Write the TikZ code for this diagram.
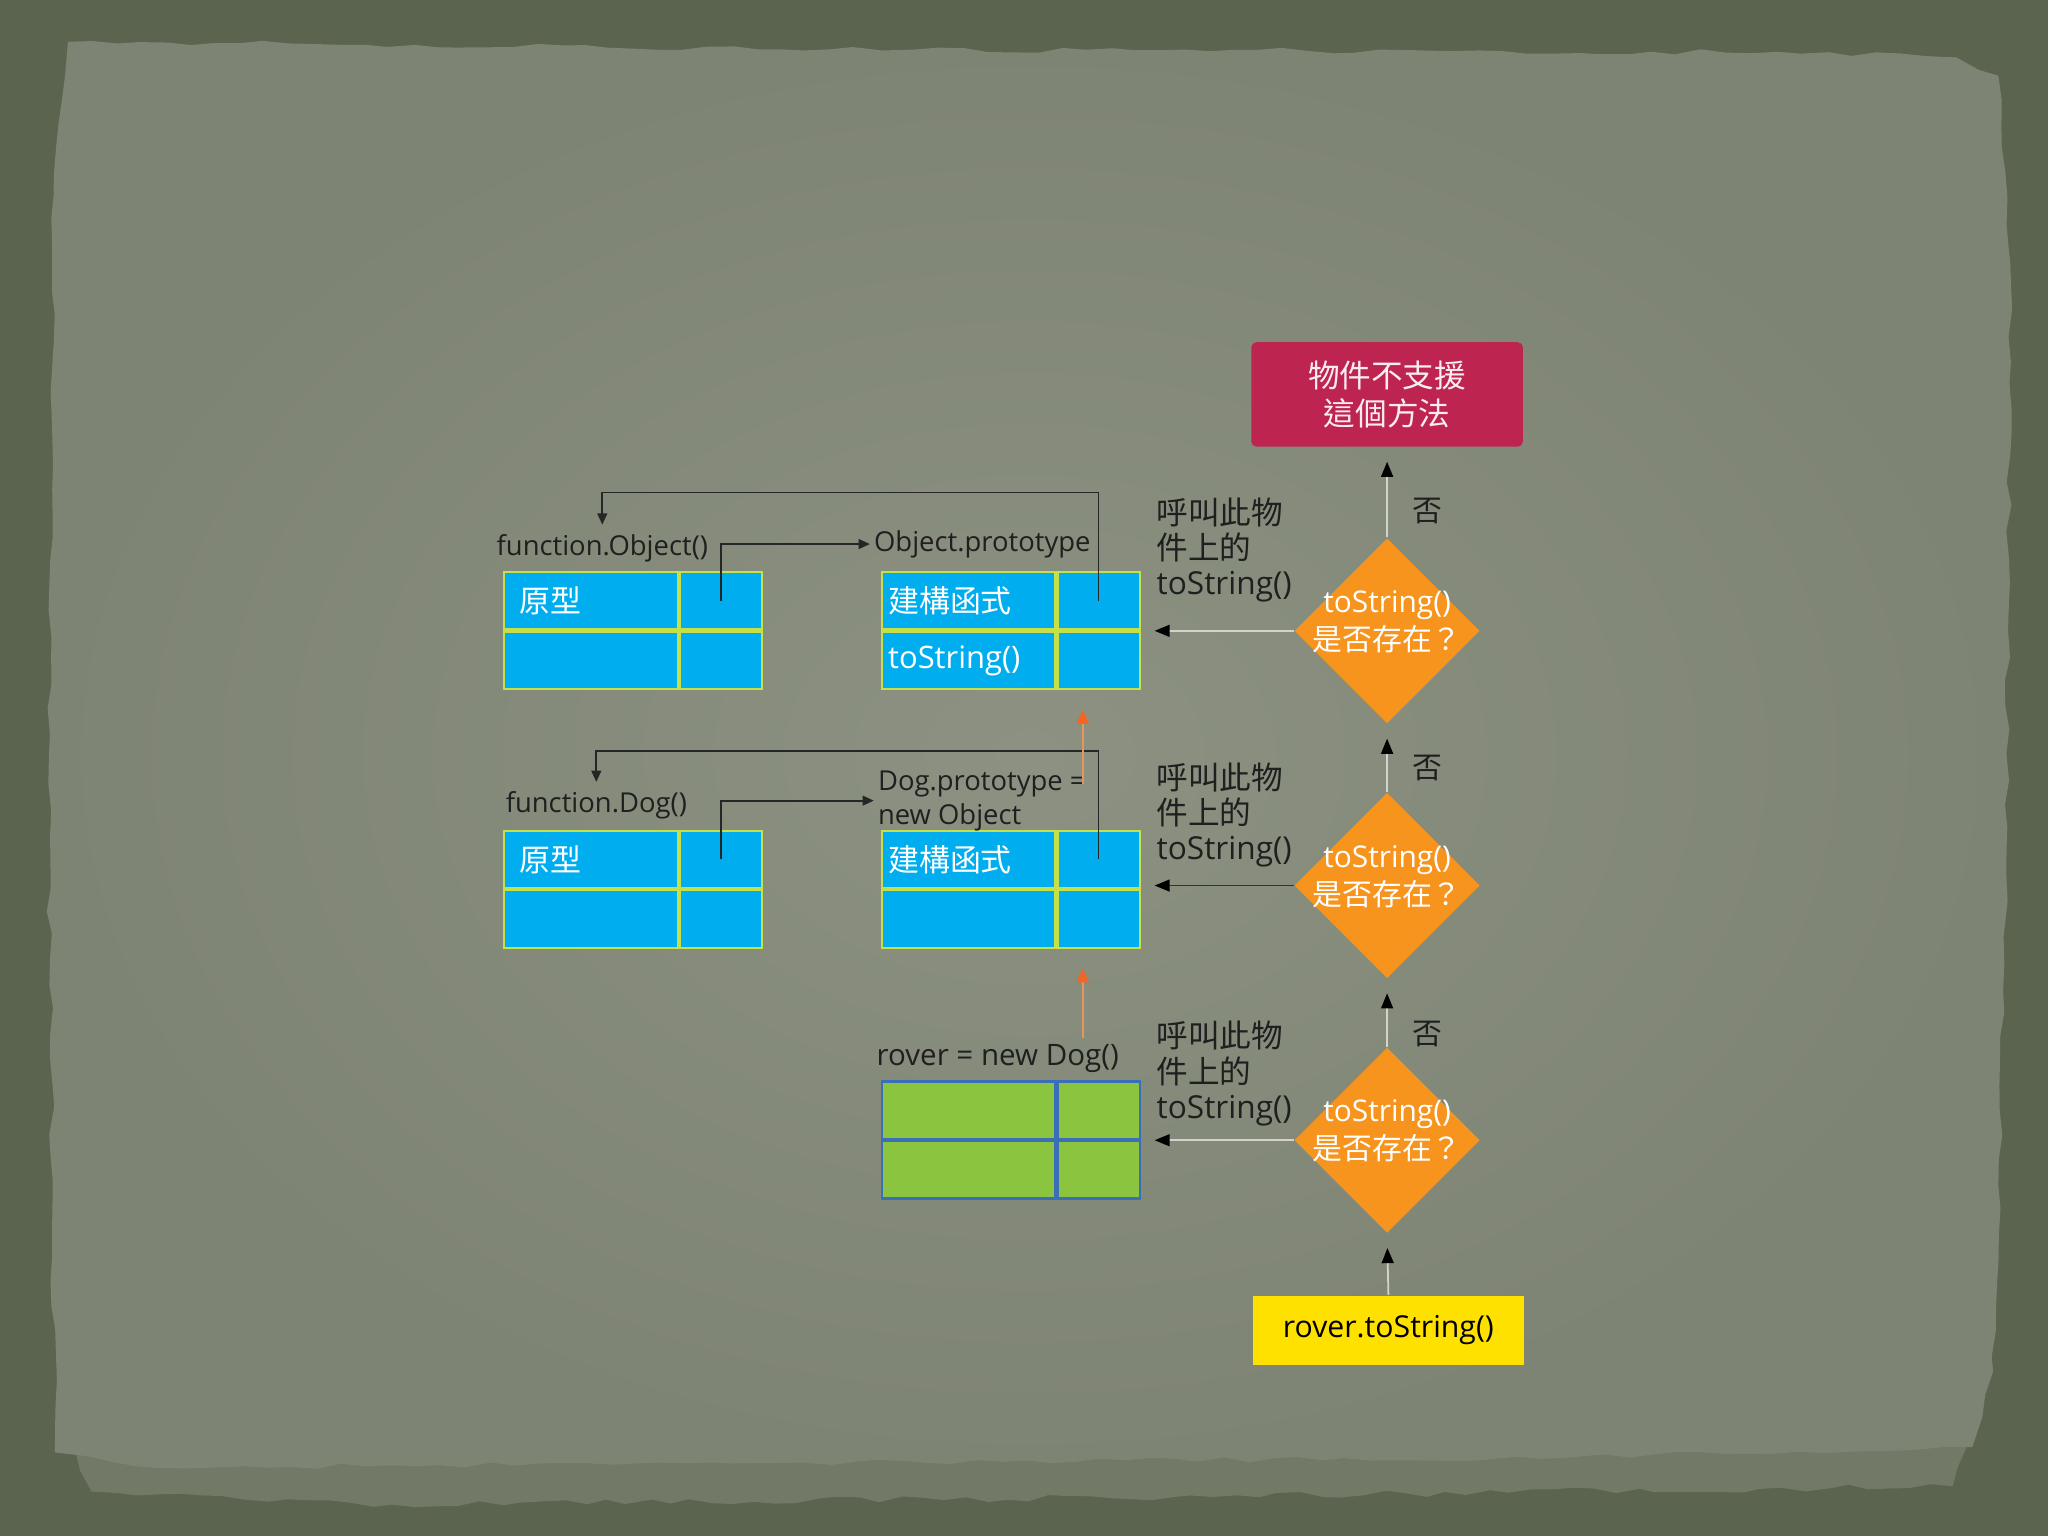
\documentclass[tikz,border=0pt]{standalone}
\usepackage{fontspec}
\setmainfont{Open Sans}
\newfontfamily\cjk{Noto Sans CJK TC}
\usetikzlibrary{shapes.geometric,arrows.meta,decorations.pathmorphing,calc}
\definecolor{frame}{HTML}{5A644E}
\definecolor{under}{HTML}{727966}
\definecolor{paperin}{HTML}{8C9182}
\definecolor{paperout}{HTML}{7E8474}
\definecolor{cellblue}{HTML}{00AEEF}
\definecolor{cellline}{HTML}{C6E04A}
\definecolor{cellgreen}{HTML}{8BC540}
\definecolor{greenline}{HTML}{3A6FB8}
\definecolor{redbox}{HTML}{BE2450}
\definecolor{diaorange}{HTML}{F7941E}
\definecolor{yelbox}{HTML}{FFE100}
\definecolor{oline}{HTML}{E8955A}
\definecolor{ohead}{HTML}{F26522}
\definecolor{flowline}{HTML}{D2D4CC}
\def\pu{0.013061cm}
\newcommand\dtext{\smash{\makebox[0pt]{\begin{tabular}{@{}c@{}}toString()\\{\cjk 是否存在？}\end{tabular}}}}
\tikzset{
  cell/.style={draw=cellline, fill=cellblue, line width=0.6pt, inner sep=0pt,
    minimum height=44*\pu, text=white, font=\fontsize{8.8}{11}\selectfont},
  wide/.style={cell, minimum width=133*\pu, text width=109*\pu, align=left},
  widep/.style={cell, minimum width=133*\pu, text width=123*\pu, align=left},
  narrow/.style={cell, minimum width=63*\pu},
  gwide/.style={wide, fill=cellgreen, draw=greenline},
  gnarrow/.style={narrow, fill=cellgreen, draw=greenline},
  lbl/.style={inner sep=1pt, text=black!88, font=\fontsize{7.8}{9.6}\selectfont},
  calllbl/.style={inner sep=0pt, text=black!88, align=left, font=\fontsize{9}{10}\selectfont},
  conn/.style={draw=black!85, line width=0.5pt, -{Triangle[length=3.2pt,width=2.8pt]}},
  oarrow/.style={draw=oline, line width=0.7pt, -{Triangle[length=4pt,width=3.4pt,color=ohead]}},
  flow/.style={draw=flowline, line width=0.5pt, -{Triangle[length=4.3pt,width=3.4pt,color=black]}},
  dia/.style={diamond, fill=diaorange, inner sep=0pt, minimum width=142*\pu, minimum height=142*\pu,
    text=white, font=\fontsize{8.5}{10.8}\selectfont},
}
\begin{document}
\begin{tikzpicture}[x=0.013061cm,y=-0.013061cm]
\useasboundingbox (0,0) rectangle (1568,1176);
% background
\fill[frame] (0,0) rectangle (1568,1176);
\pgfmathsetseed{11}
\fill[under, decorate, decoration={random steps, segment length=6pt, amplitude=1pt}]
  (45,1090) -- (1510,1090) -- (1495,1138) -- (900,1146) -- (300,1152) -- (70,1142) -- cycle;
\shade[inner color=paperin, outer color=paperout, decorate, decoration={random steps, segment length=7pt, amplitude=0.8pt}]
  (52,32) -- (700,38) -- (1400,40) -- (1498,44) -- (1530,58) -- (1539,200) -- (1536,700)
  -- (1526,1050) -- (1510,1108) -- (1200,1116) -- (600,1120) -- (120,1124) -- (42,1112)
  -- (37,600) -- (41,150) -- cycle;

% box 1: function.Object()
\node[wide] (b1a) at (452.5,460) {\cjk 原型};
\node[narrow, anchor=west] (b1b) at (b1a.east) {};
\node[wide, anchor=north] (b1c) at (b1a.south) {};
\node[narrow, anchor=west] (b1d) at (b1c.east) {};
% box 2: Object.prototype
\node[widep] (b2a) at (741.5,460) {\cjk 建構函式};
\node[narrow, anchor=west] (b2b) at (b2a.east) {};
\node[widep, anchor=north] (b2c) at (b2a.south) {toString()};
\node[narrow, anchor=west] (b2d) at (b2c.east) {};
% box 3: function.Dog()
\node[wide] (b3a) at (452.5,658) {\cjk 原型};
\node[narrow, anchor=west] (b3b) at (b3a.east) {};
\node[wide, anchor=north] (b3c) at (b3a.south) {};
\node[narrow, anchor=west] (b3d) at (b3c.east) {};
% box 4: Dog.prototype
\node[widep] (b4a) at (741.5,658) {\cjk 建構函式};
\node[narrow, anchor=west] (b4b) at (b4a.east) {};
\node[widep, anchor=north] (b4c) at (b4a.south) {};
\node[narrow, anchor=west] (b4d) at (b4c.east) {};
% box 5: rover
\node[gwide] (b5a) at (741.5,850) {};
\node[gnarrow, anchor=west] (b5b) at (b5a.east) {};
\node[gwide, anchor=north] (b5c) at (b5a.south) {};
\node[gnarrow, anchor=west] (b5d) at (b5c.east) {};

% labels
\node[lbl, anchor=base west] (lfo) at (377,425) {function.Object()};
\node[lbl, anchor=base west] (lop) at (666,422) {Object.prototype};
\node[lbl, anchor=base west] (lfd) at (384,622) {function.Dog()};
\node[lbl, anchor=west, align=left] (ldp) at (669,613) {Dog.prototype =\\new Object};
\node[lbl, anchor=base west, font=\fontsize{8.4}{10}\selectfont] (lrv) at (668,816) {rover = new Dog()};

% black connectors
\draw[conn] (b1b.center) |- (lop.west);
\draw[conn, shorten >=1.5pt] (b2b.center) -- ++(0,-83) -| (lfo.north);
\draw[conn] (b3b.center) |- (ldp.west);
\draw[conn, shorten >=1.5pt] (b4b.center) -- ++(0,-83) -| (lfd.north);

% orange connectors
\coordinate (os1) at (829,600);
\coordinate (os2) at (829,795);
\draw[oarrow, shorten >=15*\pu] (os1) -- (b2d.south -| os1);
\draw[oarrow, shorten >=15*\pu] (os2) -- (b4d.south -| os2);

% flow chart
\node[fill=redbox, rounded corners=1.5pt, minimum width=208*\pu, minimum height=80*\pu, inner sep=0pt,
  align=center, text=white!92!redbox, font=\fontsize{9}{10.8}\selectfont] (nosup) at (1062,302)
  {{\cjk 物件不支援}\\{\cjk 這個方法}};
\node[dia] (d1) at (1062,483) {\dtext};
\node[dia] (d2) at (1062,678) {\dtext};
\node[dia] (d3) at (1062,873) {\dtext};
\node[fill=yelbox, minimum width=208*\pu, minimum height=53*\pu, inner sep=0pt,
  text=black, font=\fontsize{8.6}{10}\selectfont] (start) at (1063,1018.5) {rover.toString()};

\draw[flow, shorten >=11*\pu] (start.north) -- (d3.south);
\draw[flow, shorten >=11*\pu] (d3.north) -- (d2.south);
\draw[flow, shorten >=11*\pu] (d2.north) -- (d1.south);
\draw[flow, shorten >=11*\pu] (d1.north) -- (nosup.south);

\coordinate (l1) at (884,483);
\coordinate (l2) at (884,678);
\coordinate (l3) at (884,873);
\draw[flow] (d1.west) -- (l1);
\draw[flow, draw=black!80] (d2.west) -- (l2);
\draw[flow] (d3.west) -- (l3);

\node[lbl, font=\fontsize{8.5}{10}\selectfont] (n1) at (1093,391) {\cjk 否};
\node[lbl, font=\fontsize{8.5}{10}\selectfont] (n2) at (1093,588) {\cjk 否};
\node[lbl, font=\fontsize{8.5}{10}\selectfont] (n3) at (1093,792) {\cjk 否};

\node[calllbl, anchor=west] (c1) at (885,421) {{\cjk 呼叫此物}\\{\cjk 件上的}\\toString()};
\node[calllbl, anchor=west] (c2) at (885,624) {{\cjk 呼叫此物}\\{\cjk 件上的}\\toString()};
\node[calllbl, anchor=west] (c3) at (885,822) {{\cjk 呼叫此物}\\{\cjk 件上的}\\toString()};
\end{tikzpicture}
\end{document}
